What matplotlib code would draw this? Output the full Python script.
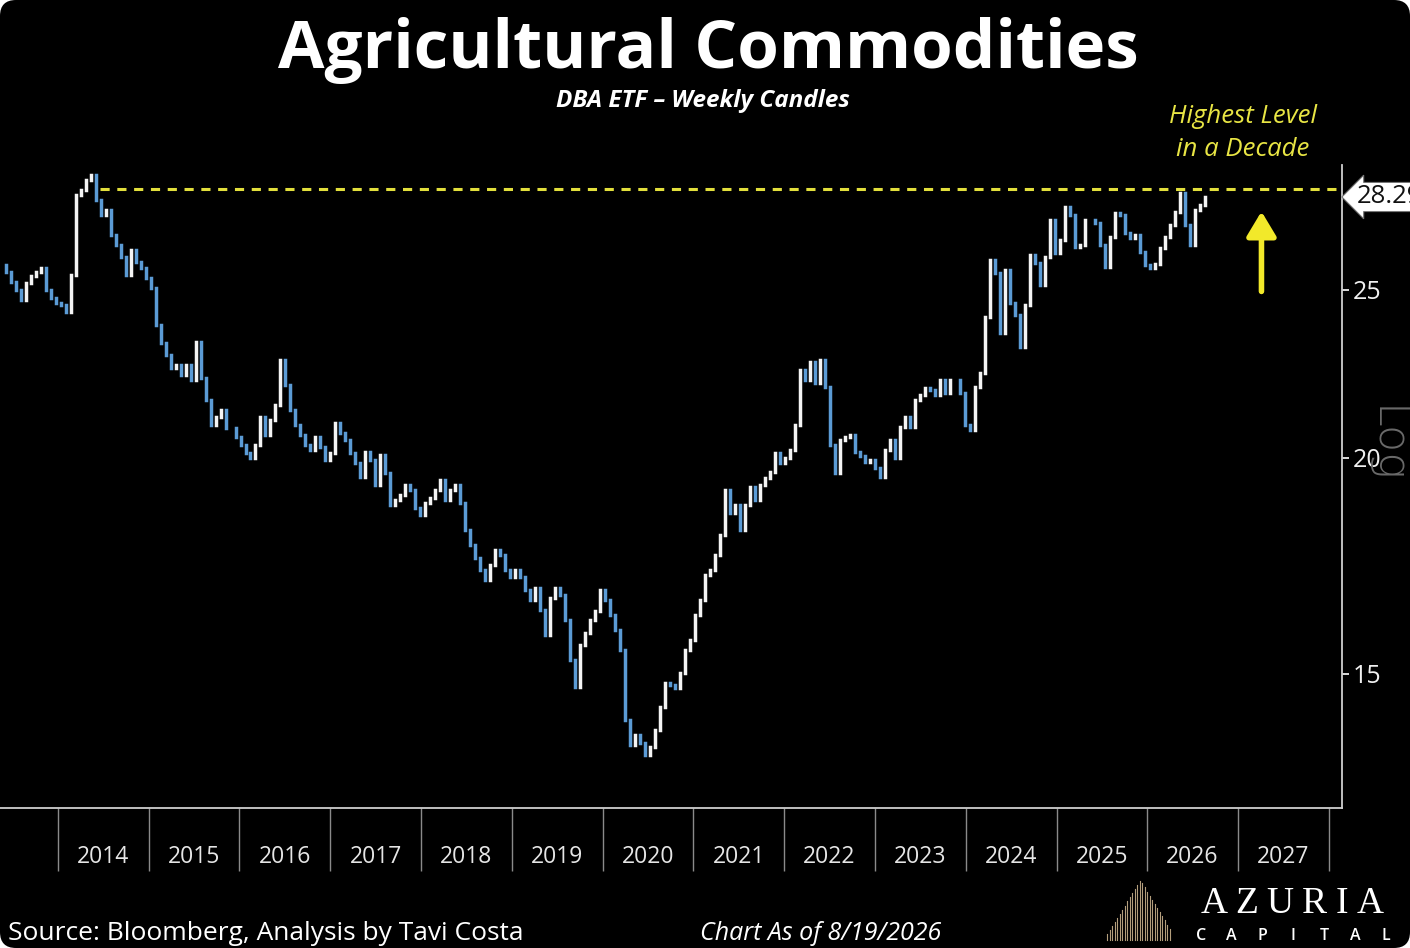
import numpy as np
import pandas as pd
import matplotlib
matplotlib.use("Agg")
import matplotlib.pyplot as plt
import matplotlib.dates as mdates
from matplotlib.patches import FancyBboxPatch, Ellipse
from matplotlib.lines import Line2D
from matplotlib.transforms import IdentityTransform
from matplotlib.ticker import FixedLocator, NullLocator, FixedFormatter, NullFormatter

# ---------------- data ----------------
start_date = "2013-05-16"
end_date = "2026-08-19"
closes = [
    25.85, 25.60, 25.26, 25.00, 24.67, 25.23, 25.47, 25.60, 25.74, 25.00, 24.74, 24.57, 24.50, 24.28,
    25.50, 28.37, 28.56, 28.94, 29.13, 28.18, 27.62, 27.81, 26.90, 26.54, 26.12, 25.50, 26.37, 25.95, 25.74, 25.40,
    25.07, 23.86, 23.30, 22.93, 22.54, 22.63, 22.33, 22.63, 22.18, 23.33, 22.24, 21.60, 20.89, 21.11, 21.31, 20.81, 20.81, 20.56, 20.34, 20.13,
    19.99, 20.34, 21.11, 20.61, 21.03, 21.45, 22.78, 22.03, 21.31, 20.89, 20.61, 20.34, 20.21, 20.56, 20.29, 19.94, 20.13, 20.95, 20.67, 20.48,
    20.13, 19.86, 19.50, 20.16, 19.94, 19.29, 20.07, 19.60, 18.78, 18.91, 19.03, 19.29, 19.16, 18.71, 18.53, 18.83, 18.96, 19.16, 19.42, 18.91,
    19.16, 19.29, 18.83, 18.17, 17.81, 17.51, 17.23, 17.00, 17.34, 17.69, 17.57, 17.23, 17.07, 17.23, 17.07, 16.77, 16.55, 16.82, 16.33, 15.80,
    16.59, 16.82, 16.66, 16.12, 15.28, 14.74, 15.59, 15.84, 16.12, 16.31, 16.77, 16.55, 16.22, 15.90, 15.49, 14.11, 13.65, 13.83, 13.69, 13.47,
    13.61, 13.92, 14.36, 14.82, 14.78, 14.72, 15.02, 15.49, 15.69, 16.22, 16.55, 17.11, 17.23, 17.57, 18.05, 19.16, 18.58, 18.78, 18.17, 18.78,
    19.24, 18.91, 19.29, 19.47, 19.63, 20.13, 19.86, 19.99, 20.21, 20.89, 22.48, 22.18, 22.72, 22.09, 22.78, 21.98, 20.34, 19.60, 20.48, 20.56,
    20.61, 20.16, 20.05, 19.89, 19.94, 19.73, 19.50, 20.21, 20.48, 20.00, 20.83, 21.11, 20.83, 21.60, 21.75, 21.95, 21.89, 21.75, 22.18, 21.80,
    22.18, 22.18, 21.80, 20.89, 20.75, 21.98, 22.39, 24.12, 26.02, 25.57, 23.61, 25.67, 24.57, 24.18, 23.17, 24.50, 26.19, 25.92, 25.17, 26.12,
    27.44, 26.26, 26.72, 27.92, 27.62, 26.47, 26.54, 27.44, 27.44, 27.33, 26.54, 25.78, 26.83, 27.70, 27.62, 26.97, 26.79, 26.90, 26.30, 25.85,
    25.74, 25.88, 26.44, 26.83, 27.26, 27.74, 28.45, 27.26, 26.54, 27.81, 28.00, 28.29,
]
year_labels = ["2014", "2015", "2016", "2017", "2018", "2019", "2020",
               "2021", "2022", "2023", "2024", "2025", "2026", "2027"]
price_ticks = [15, 20, 25]
last_price = 28.29
decade_high = 28.59
arrow_from, arrow_to = 24.95, 27.75

title = "Agricultural Commodities"
subtitle = "DBA ETF \u2013 Weekly Candles"
note_lines = ["Highest Level", "in a Decade"]
source = "Source: Bloomberg, Analysis by Tavi Costa"
asof = "Chart As of 8/19/2026"
brand = "AZURIA"
brand_sub = "CAPITAL"

# ---------------- figure ----------------
plt.rcParams["font.family"] = ["Open Sans", "DejaVu Sans"]
W, H = 1410, 948
fig = plt.figure(figsize=(W / 100, H / 100), dpi=100, facecolor="white")
bg = FancyBboxPatch((0, 0), W, H, boxstyle="round,pad=0,rounding_size=16",
                    transform=IdentityTransform(), fc="black", ec="none", zorder=-5)
fig.add_artist(bg)


def fx(px):
    return px / W


def fy(py):
    return 1 - py / H


ax = fig.add_axes([0, fy(808), fx(1342), (808 - 165) / H])
ax.set_facecolor("none")

dates = pd.date_range(start_date, end_date, periods=len(closes))
c = np.array(closes)
o = np.concatenate([[c[0]], c[:-1]])
lo = np.minimum(o, c)
hi = np.maximum(o, c)
cols = np.where(c >= o, "#f4f4f4", "#5b9bd5")
lc = ax.vlines(dates, lo, hi, colors=cols, linewidth=2.5)
lc.set_capstyle("projecting")

ax.set_yscale("log")
ax.set_ylim(12.55, 29.52)
ax.set_xlim(np.datetime64("2013-05-13"), np.datetime64("2028-02-23"))

# dashed "decade high" line
ax.hlines(decade_high, np.datetime64("2014-06-19"), np.datetime64("2028-02-23"),
          colors="#e2df3c", linestyles=(0, (3.0, 2.5)), linewidth=2.2)

# arrow
ax.annotate("", xy=(np.datetime64("2027-04-05"), arrow_to),
            xytext=(np.datetime64("2027-04-05"), arrow_from),
            arrowprops=dict(arrowstyle="-|>,head_width=0.45,head_length=0.75",
                            mutation_scale=20, color="#f2e92a", lw=4,
                            shrinkA=0, shrinkB=0))

# y axis on the right
ax.yaxis.tick_right()
ax.yaxis.set_major_locator(FixedLocator(price_ticks))
ax.yaxis.set_major_formatter(FixedFormatter([str(p) for p in price_ticks]))
ax.yaxis.set_minor_locator(NullLocator())
ax.yaxis.set_minor_formatter(NullFormatter())
ax.tick_params(axis="y", which="major", colors="white", labelcolor="#f0f0f0",
               length=5, width=1.2, pad=3, labelsize=18, direction="out")

# x axis: year separators and centred year labels
year_starts = mdates.date2num([np.datetime64(f"{y}-01-01") for y in range(2014, 2029)])
year_mids = mdates.date2num([np.datetime64(f"{y}-07-02") for y in range(2014, 2028)])
ax.xaxis.set_major_locator(FixedLocator(year_starts))
ax.xaxis.set_major_formatter(NullFormatter())
ax.xaxis.set_minor_locator(FixedLocator(year_mids))
ax.xaxis.set_minor_formatter(FixedFormatter(year_labels))
ax.tick_params(axis="x", which="major", length=45, width=1, color="#8a8a8a", direction="out")
ax.tick_params(axis="x", which="minor", length=0, pad=26.5, labelsize=16.5, labelcolor="#e6e6e6")

for s in ["top", "left"]:
    ax.spines[s].set_visible(False)
for s in ["bottom", "right"]:
    ax.spines[s].set_color("#cfcfcf")
    ax.spines[s].set_linewidth(1.3)

# last price tag
ax.text(1 + 15 / 1342, last_price, f"{last_price:.2f}", transform=ax.get_yaxis_transform(),
        ha="left", va="center", fontsize=18.5, color="#111111", clip_on=False,
        bbox=dict(boxstyle="larrow,pad=0.08", fc="white", ec="#777777", lw=0.8))

# Log label
fig.text(fx(1386), fy(445), "Log", rotation=-90, color="#6a6a6a", fontsize=32,
         family="DejaVu Sans", fontweight="light", ha="center", va="center")

# titles
fig.text(fx(708), fy(68), title, ha="center", va="baseline", color="white",
         fontsize=48.5, fontweight="bold")
fig.text(fx(703), fy(107), subtitle, ha="center", va="baseline", color="white",
         fontsize=17.5, fontweight="bold", style="italic")
fig.text(fx(1243), fy(123), note_lines[0], ha="center", va="baseline", color="#e8e544",
         fontsize=18.5, style="italic")
fig.text(fx(1243), fy(156), note_lines[1], ha="center", va="baseline", color="#e8e544",
         fontsize=18.5, style="italic")

# footer
fig.text(fx(8), fy(934), source, ha="left", va="center", color="white", fontsize=19)
fig.text(fx(821), fy(934), asof, ha="center", va="center", color="white", fontsize=18,
         style="italic")

# logo: golden fan of lines with a dark arc at the base
for i in range(26):
    xp = 1107 + i * 2.5
    top = 880 + abs(xp - 1140) * 1.65
    fig.add_artist(Line2D([fx(xp), fx(xp)], [fy(top), fy(940)], transform=fig.transFigure,
                          color="#c8b08a", lw=0.8, alpha=0.9))
fig.add_artist(Ellipse((1141, 2), 110, 52, transform=IdentityTransform(), fc="black", ec="none"))

brand_x = [1214, 1247, 1280, 1314, 1342, 1370]
for ch, xp in zip(brand, brand_x):
    fig.text(fx(xp), fy(904), ch, ha="center", va="center", color="white",
             fontsize=27, family="Liberation Serif")
for i, ch in enumerate(brand_sub):
    fig.text(fx(1201 + i * 30.8), fy(936), ch, ha="center", va="center", color="white",
             fontsize=11.5, fontweight="semibold")

fig.savefig("out.png", dpi=100, facecolor=fig.get_facecolor())
